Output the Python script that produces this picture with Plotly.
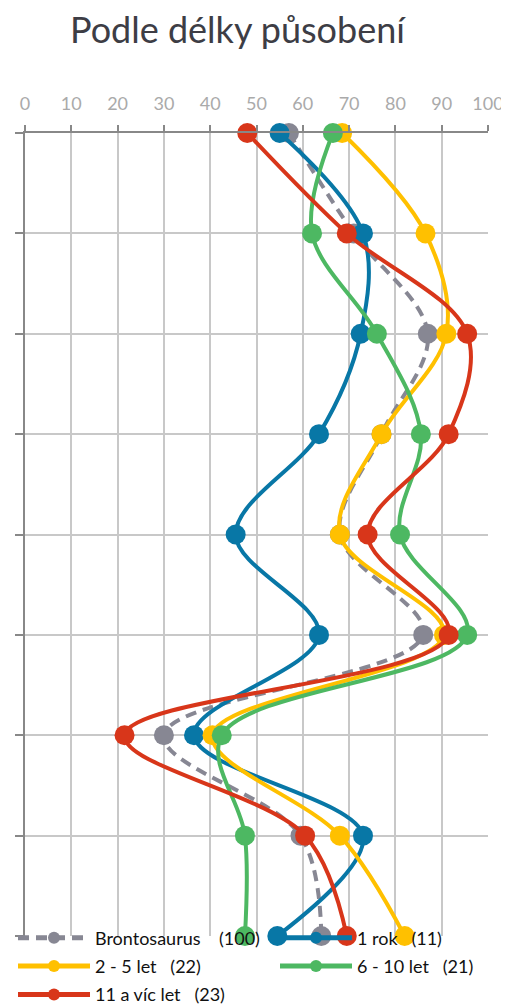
import plotly.graph_objects as go

# Row positions (question items, unlabeled in the chart)
rows = [0, 1, 2, 3, 4, 5, 6, 7, 8]

NB = "\u00a0"
series_names = ["Brontosaurus" + NB * 4 + "(100)", "1 rok" + NB * 3 + "(11)",
                "2 - 5 let" + NB * 3 + "(22)", "6 - 10 let" + NB * 3 + "(21)",
                "11 a víc let" + NB * 3 + "(23)"]

brontosaurus = [57, 71, 87, 77, 68, 86, 30, 59.5, 64]
rok_1 = [55, 73, 72.5, 63.5, 45.5, 63.5, 36.5, 73, 54.5]
let_2_5 = [68.5, 86.5, 91, 77, 68, 90.5, 40.5, 68, 82]
let_6_10 = [66.5, 62, 76, 85.5, 81, 95.5, 42.5, 47.5, 47.5]
let_11 = [48, 69.5, 95.5, 91.5, 74, 91.5, 21.5, 60.5, 69.5]

colors = ["#878793", "#0877a6", "#ffc000", "#4db862", "#d8361a"]
legend_ids = ["legend", "legend2", "legend", "legend2", "legend"]

x_ticks = [0, 10, 20, 30, 40, 50, 60, 70, 80, 90, 100]

# the page body has an 8px margin, so the figure is 8px smaller on each axis
W, H = 501, 997

fig = go.Figure()
all_series = [brontosaurus, rok_1, let_2_5, let_6_10, let_11]
for i, (name, vals) in enumerate(zip(series_names, all_series)):
    fig.add_trace(go.Scatter(
        x=vals, y=rows, name=name, mode="lines+markers",
        legend=legend_ids[i], legendgroup="g%d" % i,
        line=dict(color=colors[i], width=4, shape="spline", smoothing=1,
                  dash="11px,7px" if i == 0 else "solid"),
        marker=dict(size=20, color=colors[i]),
        cliponaxis=False,
    ))

leg_common = dict(orientation="v", xref="container", yref="container",
                  xanchor="left", yanchor="top", y=0.0858,
                  bgcolor="rgba(0,0,0,0)", font=dict(size=18, color="#111"),
                  itemwidth=72, itemsizing="constant", tracegroupgap=2,
                  traceorder="grouped")

fig.update_layout(
    width=W, height=H,
    margin=dict(l=17, r=21, t=125, b=69, autoexpand=False),
    paper_bgcolor="white", plot_bgcolor="white",
    font=dict(family="Lato, Open Sans, sans-serif", color="#111"),
    title=dict(text="Podle délky působení", x=0.458, xanchor="center", xref="container",
               y=0.978, yanchor="middle", yref="container",
               font=dict(size=36, color="#3d3d45")),
    showlegend=True,
    legend=dict(x=5 / W, **leg_common),
    legend2=dict(x=267 / W, **leg_common),
)

fig.update_xaxes(
    side="top", range=[0, 100], tickvals=x_ticks, ticktext=[str(v) for v in x_ticks],
    ticks="outside", ticklen=6, tickwidth=2, tickcolor="#888",
    showline=True, linecolor="#888", linewidth=2,
    showgrid=True, gridcolor="#c8c8c8", gridwidth=2,
    tickfont=dict(size=18, color="#aaa"), zeroline=False,
    ticklabelstandoff=8, automargin=False,
)
fig.update_yaxes(
    range=[8, 0], tickvals=rows, showticklabels=False,
    ticks="outside", ticklen=8, tickwidth=2, tickcolor="#888",
    showline=True, linecolor="#888", linewidth=2,
    showgrid=True, gridcolor="#c8c8c8", gridwidth=2, zeroline=False,
    automargin=False,
)

fig.write_html("out.html")
